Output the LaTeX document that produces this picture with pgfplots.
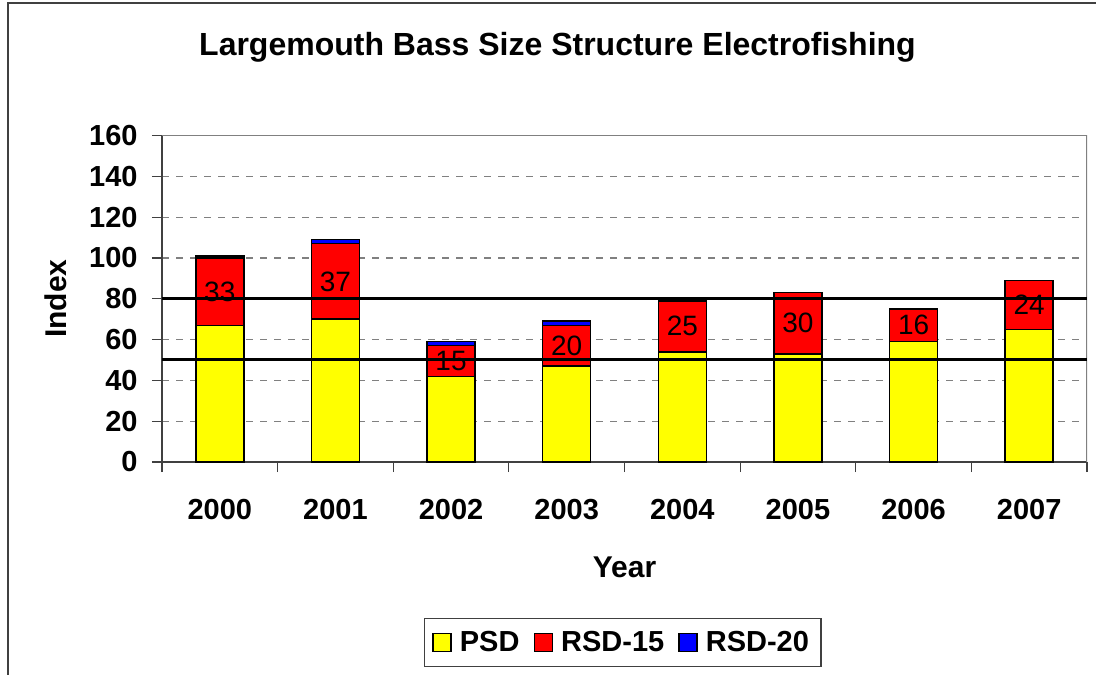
\documentclass[border=0pt]{standalone}
\usepackage{fontspec}
\setmainfont{Liberation Sans}
\usepackage{pgfplots}
\usepackage{pgfplotstable}
\pgfplotsset{compat=1.18}
\definecolor{psd}{HTML}{FFFF00}
\definecolor{rsdA}{HTML}{FF0000}
\definecolor{rsdB}{HTML}{0000FF}
\pgfplotstableread{
x psd rsdA rsdB mid lab
0 67 33 1 83.5 33
1 70 37 2 88.5 37
2 42 15 2 49.5 15
3 47 20 2 57 20
4 54 25 0 66.5 25
5 53 30 0 68 30
6 59 16 0 67 16
7 65 24 0 77 24
}\data
\newcommand\tfont{\fontsize{14.5}{17}\selectfont}
\newcommand\lfont{\fontsize{14}{17}\selectfont}
\begin{document}
\begin{tikzpicture}[x=0.5pt,y=0.5pt]
\useasboundingbox (0,0) rectangle (1096,674);
\draw[black!75, line width=1pt] (8,-10) -- (8,671) -- (1110,671);
\node[font=\bfseries\fontsize{16}{19}\selectfont] at (557.5,627) {Largemouth Bass Size Structure Electrofishing};
\begin{axis}[
  at={(81pt,106pt)}, anchor=south west, scale only axis,
  width=462.5pt, height=163.2pt,
  ybar stacked, bar width=24pt,
  xmin=-0.5, xmax=7.5, ymin=0, ymax=160,
  axis lines=left, axis line style={-, draw=black!75, line width=0.6pt},
  xtick={0,...,7},
  xticklabels={2000,2001,2002,2003,2004,2005,2006,2007},
  minor xtick={-0.5,0.5,...,7.5},
  ytick={0,20,...,160},
  tick align=outside,
  major tick length=5pt, minor tick length=5pt,
  major x tick style={draw=none},
  tick style={black!75, line width=0.6pt},
  ymajorgrids, grid style={gray, dash pattern=on 3.5pt off 3.5pt, line width=0.6pt},
  /pgf/number format/assume math mode=true,
  ticklabel style={font=\bfseries\tfont},
  xticklabel style={anchor=center, yshift=-19pt},
  yticklabel style={anchor=east, inner sep=0pt, xshift=-7pt},
  xlabel={Year}, ylabel={Index},
  label style={font=\bfseries\fontsize{15}{18}\selectfont},
  xlabel style={at={(axis description cs:0.5,-0.322)}, anchor=center},
  ylabel style={at={(axis description cs:-0.1146,0.5)}, anchor=center, rotate=0},
  legend columns=3,
  legend style={at={(axis description cs:0.498,-0.553)}, anchor=center,
    draw=black!75, line width=0.6pt, font=\bfseries\tfont,
    inner xsep=4pt, inner ysep=4pt,
    /tikz/every odd column/.append style={column sep=2pt},
    /tikz/every even column/.append style={column sep=5pt}},
  legend image code/.code={\draw[#1, draw=black, line width=0.8pt] (0pt,-4.5pt) rectangle (9pt,4.5pt);},
]
\addplot[fill=psd, draw=black, line width=0.75pt] table[x=x,y=psd]{\data};
\addplot[fill=rsdA, draw=black, line width=0.75pt] table[x=x,y=rsdA]{\data};
\addplot[fill=rsdB, draw=black, line width=0.75pt] table[x=x,y=rsdB]{\data};
\legend{PSD,RSD-15,RSD-20}
\draw[gray, line width=0.7pt] (rel axis cs:0,1) -- (rel axis cs:1,1) -- (rel axis cs:1,0);
\end{axis}
\begin{axis}[
  at={(81pt,106pt)}, anchor=south west, scale only axis,
  width=462.5pt, height=163.2pt,
  xmin=-0.5, xmax=7.5, ymin=0, ymax=160, hide axis,
]
\addplot[black, line width=1.5pt, mark=none] coordinates {(-0.5,50) (7.5,50)};
\addplot[black, line width=1.5pt, mark=none] coordinates {(-0.5,80) (7.5,80)};
\addplot[draw=none, mark=none, nodes near coords, point meta=explicit symbolic,
  every node near coord/.append style={anchor=center, font=\lfont, inner sep=0pt}]
  table[x=x, y=mid, meta=lab]{\data};
\end{axis}
\end{tikzpicture}
\end{document}
